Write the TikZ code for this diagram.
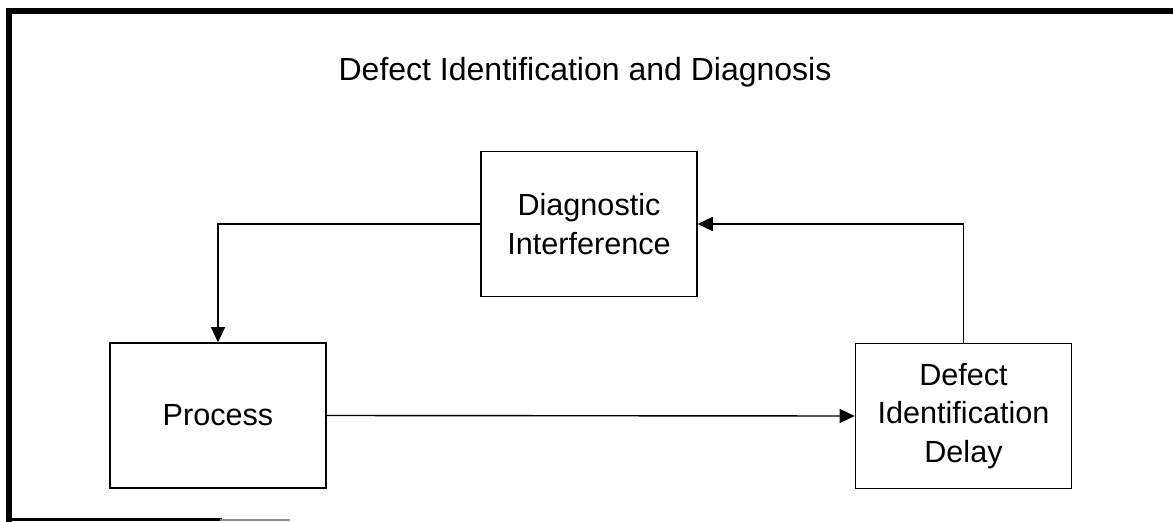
\documentclass[tikz,border=0pt]{standalone}
\usepackage{fontspec}
\setmainfont{Liberation Sans}
\usetikzlibrary{arrows.meta}

\tikzset{
  block/.style={draw=black, line width=1.6pt, minimum width=216pt, minimum height=145pt,
    align=center, inner sep=0pt, font=\fontsize{30.6}{38.2}\selectfont},
  flow/.style={draw=black, line width=1.4pt, -{Triangle[length=15pt,width=14pt]}},
  frame/.style={draw=black, line cap=rect}
}

\begin{document}
\begin{tikzpicture}[x=1pt, y=-1pt]
  \useasboundingbox (0,0) rectangle (1173,522);

  % outer frame (open on the right)
  \draw[frame, line width=6pt] (9,10.5) -- (1173,10.5);
  \draw[frame, line width=6pt] (9,10.5) -- (9,519);
  \draw[frame, line width=3pt] (9,519.5) -- (220,519.5);
  \draw[draw=black!45, line width=2pt] (220,519.5) -- (290,519.5);

  % title
  \node[anchor=base, font=\fontsize{32}{38}\selectfont] (title) at (585,80)
    {Defect Identification and Diagnosis};

  % blocks
  \node[block] (diag) at (589,224) {Diagnostic\\Interference};
  \node[block] (proc) at (218,415.5) {Process};
  \node[block] (dfct) at (963.5,416) {Defect\\Identification\\Delay};

  % connectors
  \draw[flow] (diag.west) -| (proc.north);
  \draw[flow] (proc.east) -- (dfct.west);
  \draw[flow] (dfct.north) |- (diag.east);
\end{tikzpicture}
\end{document}
